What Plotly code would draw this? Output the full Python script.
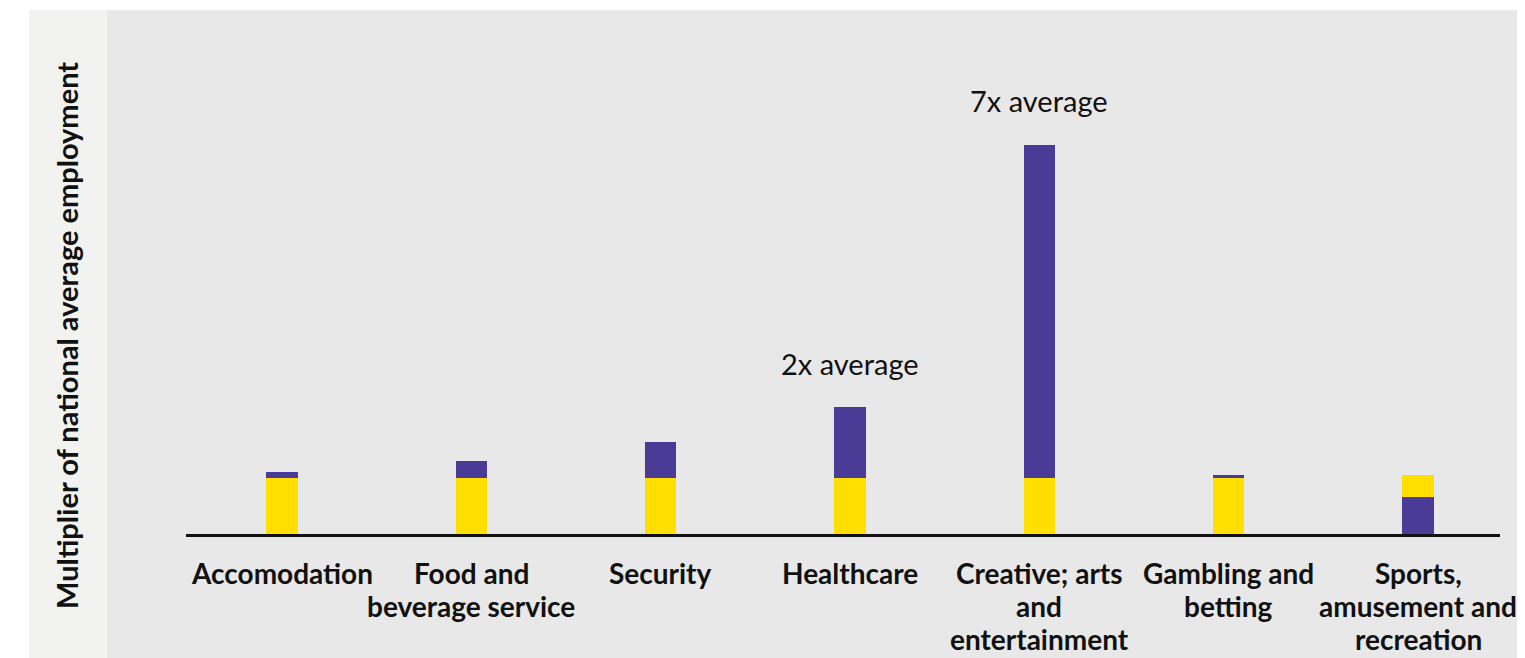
import plotly.graph_objects as go

categories = ["Accomodation", "Food and<br>beverage service", "Security", "Healthcare",
              "Creative; arts<br>and<br>entertainment", "Gambling and<br>betting",
              "Sports,<br>amusement and<br>recreation"]
lower_segment = [1.0, 1.0, 1.0, 1.0, 1.0, 1.0, 0.66]
upper_segment = [0.1, 0.3, 0.62, 1.24, 5.88, 0.05, 0.39]
YELLOW = "#FFDE00"
PURPLE = "#4A3B97"
lower_colors = [YELLOW] * 6 + [PURPLE]
upper_colors = [PURPLE] * 6 + [YELLOW]
callouts = [(3, 3.02, "2x average"), (4, 7.68, "7x average")]
y_title = "Multiplier of national average employment"

W, H = 1525, 658
OFF = 8  # page body margin
L, R, T, B = 186 - OFF, 25 + OFF, 60 - OFF, 124 + OFF
pw, ph = W - L - R, H - T - B

def px_x(p):
    return (p - OFF - L) / pw

def px_y(p):
    return (H - B - (p - OFF)) / ph

x_idx = list(range(len(categories)))

fig = go.Figure()
fig.add_trace(go.Bar(x=x_idx, y=lower_segment, marker=dict(color=lower_colors, line=dict(width=0)),
                     width=0.164, hoverinfo="skip"))
fig.add_trace(go.Bar(x=x_idx, y=upper_segment, marker=dict(color=upper_colors, line=dict(width=0)),
                     width=0.164, hoverinfo="skip"))

shapes = [
    dict(type="rect", xref="paper", yref="paper", x0=px_x(29), x1=px_x(1540), y0=px_y(680), y1=px_y(10),
         fillcolor="#E8E8E8", line=dict(width=0), layer="below"),
    dict(type="rect", xref="paper", yref="paper", x0=px_x(29), x1=px_x(107), y0=px_y(680), y1=px_y(10),
         fillcolor="#F2F2F1", line=dict(width=0), layer="below"),
]

annotations = [dict(x=cx, y=cy, xref="x", yref="y", text=t, showarrow=False,
                    font=dict(family="Lato", size=29, color="#111111"), xanchor="center", yanchor="middle")
               for cx, cy, t in callouts]
annotations.append(dict(x=px_x(66), y=px_y(336), xref="paper", yref="paper", text="<b>" + y_title + "</b>",
                        textangle=-90, showarrow=False, font=dict(family="Lato", size=29, color="#111111"),
                        xanchor="center", yanchor="middle"))

# category labels, one annotation per line for tight line spacing
first_line_center, line_step = 573, 33
for i, cat in enumerate(categories):
    for j, line in enumerate(cat.split("<br>")):
        annotations.append(dict(x=i, xref="x", y=px_y(first_line_center + j * line_step), yref="paper",
                                text="<b>" + line + "</b>", showarrow=False,
                                font=dict(family="Lato", size=28, color="#111111"),
                                xanchor="center", yanchor="middle"))

fig.update_layout(
    width=W, height=H, barmode="stack", showlegend=False,
    margin=dict(l=L, r=R, t=T, b=B, autoexpand=False),
    paper_bgcolor="white", plot_bgcolor="rgba(0,0,0,0)",
    shapes=shapes, annotations=annotations,
    xaxis=dict(range=[-0.507, 6.433], tickmode="array", tickvals=x_idx, showticklabels=False,
               ticks="", showline=True, linecolor="#111111", linewidth=2.5, showgrid=False,
               zeroline=False, fixedrange=True),
    yaxis=dict(range=[0, ph / 56.5], showticklabels=False, showgrid=False, zeroline=False,
               showline=False, ticks="", fixedrange=True),
)

fig.write_html("out.html", config={"displayModeBar": False})
